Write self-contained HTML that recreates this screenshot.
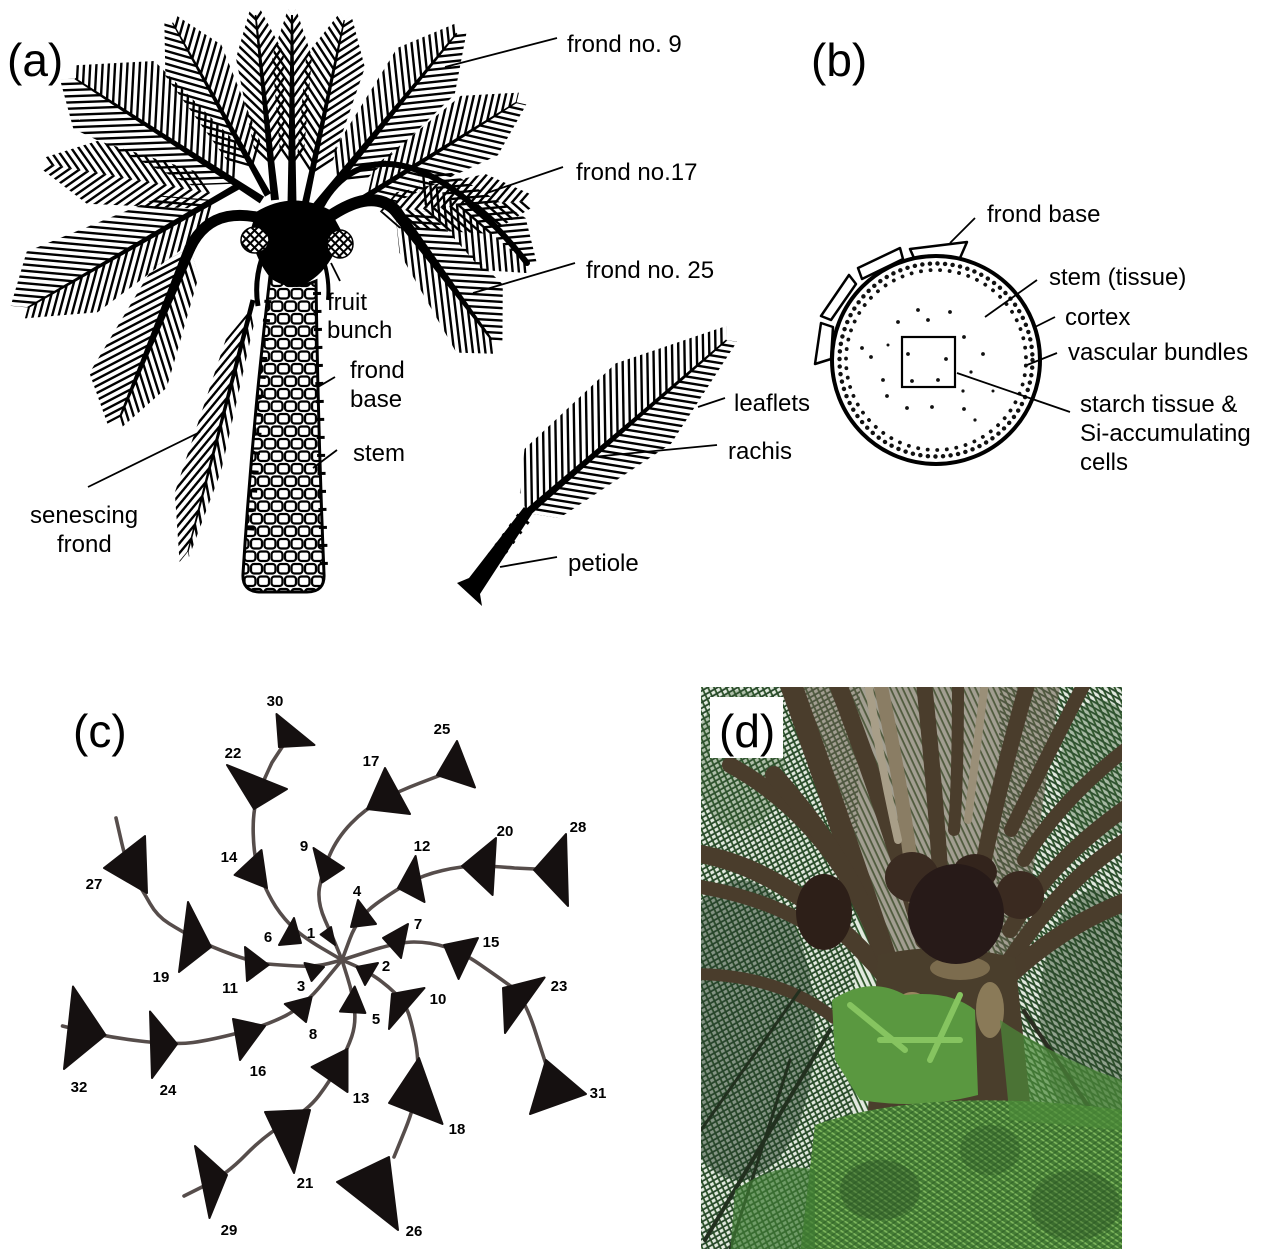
<!DOCTYPE html>
<html><head><meta charset="utf-8">
<style>
html,body{margin:0;padding:0;background:#fff;}
svg{display:block;}
text{font-family:"Liberation Sans",Arial,sans-serif;fill:#000;}
</style></head><body>
<svg width="1269" height="1260" viewBox="0 0 1269 1260" xmlns="http://www.w3.org/2000/svg">
<defs>
<pattern id="h25" patternUnits="userSpaceOnUse" width="10" height="6.2" patternTransform="rotate(25)"><rect width="10" height="2.4"/></pattern>
<pattern id="h30" patternUnits="userSpaceOnUse" width="10" height="6.2" patternTransform="rotate(30)"><rect width="10" height="2.4"/></pattern>
<pattern id="h35" patternUnits="userSpaceOnUse" width="10" height="6.2" patternTransform="rotate(35)"><rect width="10" height="2.4"/></pattern>
<pattern id="h40" patternUnits="userSpaceOnUse" width="10" height="6.2" patternTransform="rotate(40)"><rect width="10" height="2.4"/></pattern>
<pattern id="h45" patternUnits="userSpaceOnUse" width="10" height="6.2" patternTransform="rotate(45)"><rect width="10" height="2.4"/></pattern>
<pattern id="h50" patternUnits="userSpaceOnUse" width="10" height="6.2" patternTransform="rotate(50)"><rect width="10" height="2.4"/></pattern>
<pattern id="h60" patternUnits="userSpaceOnUse" width="10" height="6.2" patternTransform="rotate(60)"><rect width="10" height="2.4"/></pattern>
<pattern id="h130" patternUnits="userSpaceOnUse" width="10" height="6.2" patternTransform="rotate(130)"><rect width="10" height="2.4"/></pattern>
<pattern id="h135" patternUnits="userSpaceOnUse" width="10" height="6.2" patternTransform="rotate(135)"><rect width="10" height="2.4"/></pattern>
<pattern id="h140" patternUnits="userSpaceOnUse" width="10" height="6.2" patternTransform="rotate(140)"><rect width="10" height="2.4"/></pattern>
<pattern id="h145" patternUnits="userSpaceOnUse" width="10" height="6.2" patternTransform="rotate(145)"><rect width="10" height="2.4"/></pattern>
<pattern id="h150" patternUnits="userSpaceOnUse" width="10" height="6.2" patternTransform="rotate(150)"><rect width="10" height="2.4"/></pattern>
<pattern id="h155" patternUnits="userSpaceOnUse" width="10" height="6.2" patternTransform="rotate(155)"><rect width="10" height="2.4"/></pattern>
<pattern id="xh" patternUnits="userSpaceOnUse" width="6" height="6" patternTransform="rotate(45)"><rect width="6" height="6" fill="#fff"/><rect width="6" height="2"/><rect width="2" height="6"/></pattern>
<pattern id="cells" patternUnits="userSpaceOnUse" width="27" height="25"><rect width="27" height="25" fill="#fff"/><g fill="none" stroke="#000" stroke-width="2.3"><rect x="1.5" y="1.5" width="11" height="9.5" rx="3"/><rect x="15" y="1.5" width="11" height="9.5" rx="3"/><rect x="-5.5" y="14" width="11" height="9.5" rx="3"/><rect x="8" y="14" width="11" height="9.5" rx="3"/><rect x="21.5" y="14" width="11" height="9.5" rx="3"/></g></pattern>
<pattern id="g1" patternUnits="userSpaceOnUse" width="10" height="5.5" patternTransform="rotate(65)"><rect width="10" height="1.8" fill="#2d5529"/></pattern>
<pattern id="g2" patternUnits="userSpaceOnUse" width="10" height="5" patternTransform="rotate(150)"><rect width="10" height="1.8" fill="#27472a"/></pattern>
<pattern id="g3" patternUnits="userSpaceOnUse" width="10" height="5" patternTransform="rotate(30)"><rect width="10" height="1.8" fill="#27472a"/></pattern>
<pattern id="f1" patternUnits="userSpaceOnUse" width="10" height="5" patternTransform="rotate(35)"><rect width="10" height="1.6" fill="#7fb85e"/></pattern>
<pattern id="f2" patternUnits="userSpaceOnUse" width="10" height="5" patternTransform="rotate(145)"><rect width="10" height="1.6" fill="#2c5e25"/></pattern>
<clipPath id="pc"><rect x="701" y="687" width="421" height="562"/></clipPath>
</defs>
<rect width="1269" height="1260" fill="#fff"/>

<!-- ================= PANEL (a) ================= -->
<text x="7" y="76" font-size="46">(a)</text>

<g transform="translate(250,200) rotate(190)">
<path fill="url(#h45)" d="M40,0L203,0L210,6L160,32L60,19Z"/>
<path fill="url(#h135)" d="M40,0L203,0L210,-6L160,-32L60,-19Z"/>
</g>
<g transform="translate(330,215) rotate(-4)">
<path fill="url(#h45)" d="M50,0L196,0L203,6L158,30L68,18Z"/>
<path fill="url(#h135)" d="M50,0L196,0L203,-6L158,-30L68,-18Z"/>
</g>
<g transform="translate(240,185) rotate(150)">
<path fill="url(#h35)" d="M30,0L245,0L259,10L218,49L72,29Z"/>
<path fill="url(#h135)" d="M30,0L245,0L253,-8L187,-39L53,-23Z"/>
<path d="M0,-3.5L245,-0.8L245,0.8L0,3.5Z"/>
</g>
<g transform="translate(262,200) rotate(213)">
<path fill="url(#h60)" d="M30,0L223,0L229,12L166,58L48,33Z"/>
<path fill="url(#h145)" d="M30,0L223,0L235,-9L197,-43L67,-26Z"/>
<path d="M0,-4L223,-0.8L223,0.8L0,4Z"/>
</g>
<g transform="translate(268,195) rotate(241)">
<path fill="url(#h45)" d="M30,0L197,0L203,6L154,32L49,19Z"/>
<path fill="url(#h135)" d="M30,0L197,0L203,-6L154,-32L49,-19Z"/>
<path d="M0,-3.5L197,-0.6L197,0.6L0,3.5Z"/>
</g>
<g transform="translate(275,200) rotate(264)">
<path fill="url(#h40)" d="M30,0L186,0L192,5L145,24L47,15Z"/>
<path fill="url(#h140)" d="M30,0L186,0L192,-5L145,-24L47,-15Z"/>
<path d="M0,-4L186,-0.8L186,0.8L0,4Z"/>
</g>
<g transform="translate(292,205) rotate(270)">
<path fill="url(#h35)" d="M35,0L190,0L196,4L148,20L52,12Z"/>
<path fill="url(#h145)" d="M35,0L190,0L196,-4L148,-20L52,-12Z"/>
<path d="M0,-4.5L190,-1L190,1L0,4.5Z"/>
</g>
<g transform="translate(305,205) rotate(282)">
<path fill="url(#h45)" d="M30,0L189,0L195,6L147,30L48,18Z"/>
<path fill="url(#h135)" d="M30,0L189,0L195,-6L147,-30L48,-18Z"/>
<path d="M0,-3.5L189,-0.7L189,0.7L0,3.5Z"/>
</g>
<g transform="translate(312,212) rotate(309)">
<path fill="url(#h45)" d="M40,0L230,0L237,7L181,37L62,22Z"/>
<path fill="url(#h135)" d="M40,0L230,0L237,-7L181,-37L62,-22Z"/>
<path d="M0,-4.5L230,-0.8L230,0.8L0,4.5Z"/>
</g>
<g transform="translate(325,222) rotate(328)">
<path fill="url(#h45)" d="M50,0L226,0L233,7L182,35L71,21Z"/>
<path fill="url(#h135)" d="M50,0L226,0L233,-7L182,-35L71,-21Z"/>
<path d="M0,-3.5L226,-0.7L226,0.7L0,3.5Z"/>
</g>
<g transform="translate(418,172) rotate(40)">
<path fill="url(#h45)" d="M0,0L142,0L149,7L112,34L20,20Z"/>
<path fill="url(#h135)" d="M0,0L142,0L149,-7L112,-34L20,-20Z"/>
</g>
<path d="M322,205 C355,145 430,140 527,263" fill="none" stroke="#000" stroke-width="6" stroke-linecap="round"/>
<g transform="translate(395,210) rotate(53.3)">
<path fill="url(#h130)" d="M0,0L162,0L169,-8L124,-42L21,-25Z"/>
<path fill="url(#h30)" d="M0,0L162,0L174,7L151,36L37,22Z"/>
<path d="M0,-6L162,-1L162,1L0,6Z"/>
</g>
<path d="M298,242 Q365,180 395,210" fill="none" stroke="#000" stroke-width="12" stroke-linecap="round"/>
<g transform="translate(190,248) rotate(112.5)">
<path fill="url(#h40)" d="M0,0L183,0L194,9L154,45L32,27Z"/>
<path fill="url(#h140)" d="M0,0L183,0L191,-6L138,-32L23,-19Z"/>
<path d="M0,-5.5L183,-1L183,1L0,5.5Z"/>
</g>
<path d="M290,228 Q215,195 190,248" fill="none" stroke="#000" stroke-width="11" stroke-linecap="round"/>
<g transform="translate(253,300) rotate(104.5)">
<path fill="url(#h25)" d="M10,0L260,0L272,5.5L206,27.5L45,16.5Z"/>
<path fill="url(#h155)" d="M10,0L260,0L265,-2.4L173,-12L25,-7Z"/>
<path d="M0,-2.5L260,-0.7L260,0.7L0,2.5Z"/>
</g>

<path d="M256,212 Q292,190 330,210 L342,232 Q332,270 305,284 Q290,292 276,284 Q256,264 250,232 Z"/>
<path d="M262,258 Q254,282 258,306" fill="none" stroke="#000" stroke-width="5"/>
<path d="M323,258 Q330,280 328,300" fill="none" stroke="#000" stroke-width="4"/>
<path d="M270,276 Q292,292 316,281 Q318,430 324,574 Q325,592 307,592 L259,592 Q242,591 243,574 Q252,430 270,276 Z" fill="url(#cells)" stroke="#000" stroke-width="3"/>
<path d="M317,292 L324,570" stroke="#000" stroke-width="8" stroke-dasharray="3 15" fill="none"/>
<path d="M268,300 L250,540" stroke="#000" stroke-width="7" stroke-dasharray="3 16" fill="none"/>
<ellipse cx="255" cy="240" rx="14" ry="13" fill="url(#xh)" stroke="#000" stroke-width="1.5"/>
<ellipse cx="340" cy="244" rx="13" ry="14" fill="url(#xh)" stroke="#000" stroke-width="1.5"/>

<g transform="translate(527,513) rotate(-40.9)">
<path fill="url(#h130)" d="M0,0L264,0L273,-11L165,-55L40,-50L8,-20Z"/>
<path fill="url(#h50)" d="M0,0L264,0L271,8L154,42L21,25Z"/>
<path d="M0,-3.8L264,-0.8L264,0.8L0,3.8Z"/>
</g>
<path d="M472,588 L528,512" stroke="#000" stroke-width="15" stroke-dasharray="3 9" fill="none"/>
<path d="M457,583 L469,578 L524,507 L532,514 L480,594 L482,606 Z"/>

<g stroke="#000" stroke-width="1.8" fill="none">
<path d="M557,38 L445,67"/>
<path d="M563,167 L487,193"/>
<path d="M575,263 L473,293"/>
<path d="M331,263 L340,281"/>
<path d="M335,377 L318,387"/>
<path d="M337,450 L313,468"/>
<path d="M88,487 L200,432"/>
<path d="M725,398 L698,407"/>
<path d="M717,445 L592,457"/>
<path d="M557,557 L500,567"/>
</g>
<g font-size="24">
<text x="567" y="52">frond no. 9</text>
<text x="576" y="180">frond no.17</text>
<text x="586" y="278">frond no. 25</text>
<text x="327" y="310">fruit</text>
<text x="327" y="338">bunch</text>
<text x="350" y="378">frond</text>
<text x="350" y="407">base</text>
<text x="353" y="461">stem</text>
<text x="30" y="523">senescing</text>
<text x="57" y="552">frond</text>
<text x="734" y="411">leaflets</text>
<text x="728" y="459">rachis</text>
<text x="568" y="571">petiole</text>
</g>

<!-- ================= PANEL (b) ================= -->
<text x="811" y="76" font-size="46">(b)</text>
<g fill="#fff" stroke="#000" stroke-width="2.5" stroke-linejoin="round">
<polygon points="910,249 967,242 960,258 914,258"/>
<polygon points="858,268 900,248 903,259 862,279"/>
<polygon points="821,316 849,275 856,284 831,320"/>
<polygon points="815,364 821,323 833,327 831,359"/>
</g>
<circle cx="936" cy="360" r="104" fill="#fff" stroke="#000" stroke-width="4"/>
<circle cx="936" cy="360" r="96.5" fill="none" stroke="#111" stroke-width="4.4" stroke-linecap="round" stroke-dasharray="0.1 7.5"/>
<circle cx="936" cy="360" r="90" fill="none" stroke="#111" stroke-width="3.8" stroke-linecap="round" stroke-dasharray="0.1 9.5" stroke-dashoffset="4"/>
<rect x="902" y="337" width="53" height="50" fill="none" stroke="#000" stroke-width="2.2"/>
<g fill="#111">
<circle cx="918" cy="310" r="1.9"/><circle cx="950" cy="312" r="1.9"/><circle cx="928" cy="320" r="1.9"/><circle cx="898" cy="322" r="1.9"/>
<circle cx="964" cy="337" r="1.9"/><circle cx="862" cy="348" r="1.9"/><circle cx="871" cy="357" r="1.9"/><circle cx="888" cy="345" r="1.5"/>
<circle cx="908" cy="354" r="1.9"/><circle cx="946" cy="359" r="1.9"/><circle cx="983" cy="354" r="1.9"/><circle cx="971" cy="372" r="1.6"/>
<circle cx="883" cy="380" r="1.9"/><circle cx="912" cy="381" r="1.9"/><circle cx="938" cy="380" r="1.9"/><circle cx="887" cy="396" r="1.9"/>
<circle cx="907" cy="408" r="1.9"/><circle cx="932" cy="407" r="1.9"/><circle cx="963" cy="391" r="1.6"/><circle cx="964" cy="409" r="1.9"/>
<circle cx="993" cy="391" r="1.5"/><circle cx="975" cy="420" r="1.6"/>
</g>
<g stroke="#000" stroke-width="1.8" fill="none">
<path d="M975,218 L950,243"/>
<path d="M1037,280 L985,317"/>
<path d="M1055,317 L1035,327"/>
<path d="M1057,353 L1027,365"/>
<path d="M957,373 L1070,412"/>
</g>
<g font-size="24">
<text x="987" y="222">frond base</text>
<text x="1049" y="285">stem (tissue)</text>
<text x="1065" y="325">cortex</text>
<text x="1068" y="360">vascular bundles</text>
<text x="1080" y="412">starch tissue &amp;</text>
<text x="1080" y="441">Si-accumulating</text>
<text x="1080" y="470">cells</text>
</g>

<!-- ================= PANEL (c) ================= -->
<text x="73" y="747" font-size="46">(c)</text>
<g fill="none" stroke="#564d4b" stroke-width="3.6" stroke-linecap="round">
<path d="M342,960 L337.5,949 Q333,938 325,920 Q317,902 319.5,887.5 Q322,873 329.5,855.5 Q337,838 351,823.5 Q365,809 382,800 Q399,791 420,783 L441,775"/>
<path d="M342,960 L353.5,965 Q365,970 376,977.5 Q387,985 396,994 Q405,1003 408.5,1013.5 Q412,1024 415.5,1042 Q419,1060 417.5,1081.5 Q416,1103 405,1130 L394,1157"/>
<path d="M342,960 L328.5,963.5 Q315,967 297,966 Q279,965 267.5,964 Q256,963 233.5,955 Q211,947 196,939 Q181,931 169,923.5 Q157,916 150,903.5 Q143,891 135,878.5 Q127,866 121.5,842 L116,818"/>
<path d="M342,960 L350,938.5 Q358,917 376,904 Q394,891 408.5,883 Q423,875 442.5,870.5 Q462,866 477.5,866 Q493,866 514.5,868 L556,870"/>
<path d="M342,960 L347.5,977.5 Q353,995 354.5,1009.5 Q356,1024 351.75,1036.5 Q347.5,1049 338.75,1065 Q330,1081 319,1095.5 Q308,1110 286.5,1122.5 Q265,1135 245.5,1155 Q226,1175 205,1185.5 L184,1196"/>
<path d="M342,960 L321.5,948 Q301,936 290,924.5 Q279,913 272,900.5 Q265,888 259.5,873.5 Q254,859 253.25,834 Q252.5,809 258.75,793 Q265,777 272,762.5 L290,735"/>
<path d="M342,960 L370,951 Q398,942 414,942 Q430,942 446,947 Q462,952 480,964.5 Q498,977 510.5,986 Q523,995 534,1027.5 L554,1089"/>
<path d="M342,960 L323,983 Q304.5,1006 285,1016 Q265,1026 238,1033 Q211,1040 193,1042.5 Q175.5,1045 140,1041 Q104,1037 62.5,1026"/>
</g>
<g fill="#151010" stroke="#151010" stroke-width="2" stroke-linejoin="round">
<polygon points="276.5,714 314.5,745 279,747"/>
<polygon points="227,765 287,789 254,809"/>
<polygon points="234.6,875 261.5,850 267,888"/>
<polygon points="279,945 294,918 301,943"/>
<polygon points="320.6,934.5 331,927 335,945"/>
<polygon points="313.5,848 344,868 322,882.5"/>
<polygon points="367,809 385,768 410,814"/>
<polygon points="437,775 457,741 475,787.5"/>
<polygon points="351,927 358,900 376,924"/>
<polygon points="398,888 415.6,856 424.5,902"/>
<polygon points="462,866 496,838 492.6,895"/>
<polygon points="534,870 566,834 568,906"/>
<polygon points="383,938 408,924 401,958"/>
<polygon points="444,945 478,938 458.6,979"/>
<polygon points="503,988 544.6,977.5 505,1033"/>
<polygon points="530,1114 546,1060 586,1094"/>
<polygon points="356.5,967 378,963 365,985"/>
<polygon points="392,994 424.5,988 389,1029"/>
<polygon points="389,1103 419,1058 442.5,1124"/>
<polygon points="337,1182 389,1157 398,1230"/>
<polygon points="340,1011.5 354.7,986.5 365.4,1013"/>
<polygon points="311.6,1067 347.5,1049 347.5,1092"/>
<polygon points="265,1112 310,1110 294,1173"/>
<polygon points="195,1146 227,1175 209.5,1218"/>
<polygon points="304.5,963 324,967 311.6,981"/>
<polygon points="245,947 268.6,965 247,981"/>
<polygon points="188,902 211,947 179,972"/>
<polygon points="104,868 145,836 147,893"/>
<polygon points="284.8,1004 311.6,997 306,1022"/>
<polygon points="233,1019 265,1026 240,1060"/>
<polygon points="150,1011.5 177,1044 152,1078"/>
<polygon points="73,986.5 105.5,1035 64,1069"/>
</g>
<g font-size="15" font-weight="bold" text-anchor="middle">
<text x="275" y="706">30</text><text x="233" y="758">22</text><text x="371" y="766">17</text><text x="442" y="734">25</text>
<text x="229" y="862">14</text><text x="304" y="851">9</text><text x="422" y="851">12</text><text x="505" y="836">20</text>
<text x="578" y="832">28</text><text x="94" y="889">27</text><text x="357" y="896">4</text><text x="418" y="929">7</text>
<text x="268" y="942">6</text><text x="311" y="938">1</text><text x="491" y="947">15</text><text x="386" y="971">2</text>
<text x="161" y="982">19</text><text x="230" y="993">11</text><text x="301" y="991">3</text><text x="559" y="991">23</text>
<text x="438" y="1004">10</text><text x="376" y="1024">5</text><text x="313" y="1039">8</text><text x="79" y="1092">32</text>
<text x="168" y="1095">24</text><text x="258" y="1076">16</text><text x="361" y="1103">13</text><text x="598" y="1098">31</text>
<text x="457" y="1134">18</text><text x="305" y="1188">21</text><text x="229" y="1235">29</text><text x="414" y="1236">26</text>
</g>

<!-- ================= PANEL (d) photo ================= -->
<g clip-path="url(#pc)">
<rect x="701" y="687" width="421" height="562" fill="#e2e9df"/>
<rect x="701" y="687" width="421" height="562" fill="url(#g1)"/>
<path d="M701,687 L860,687 L850,1249 L701,1249 Z" fill="url(#g2)"/>
<path d="M1000,687 L1122,687 L1122,1249 L990,1249 Z" fill="url(#g3)"/>
<ellipse cx="740" cy="1030" rx="75" ry="150" fill="#26402a" opacity=".5"/>
<ellipse cx="1095" cy="1010" rx="55" ry="120" fill="#2c4a2a" opacity=".45"/>
<ellipse cx="1100" cy="770" rx="40" ry="70" fill="#3a6236" opacity=".35"/>
<ellipse cx="740" cy="760" rx="45" ry="70" fill="#3a6236" opacity=".3"/>
<path d="M800,687 L1060,687 L1020,960 L880,960 Z" fill="#6e6150" opacity=".55"/>
<g fill="none" stroke-linecap="round" stroke="#4a3d2c">
<path d="M790,682 Q850,850 897,992" stroke-width="22"/>
<path d="M837,682 Q890,820 924,940" stroke-width="18"/>
<path d="M924,682 Q935,790 940,870" stroke-width="16"/>
<path d="M958,682 Q958,780 954,830" stroke-width="12"/>
<path d="M1028,682 Q1000,780 984,860" stroke-width="16"/>
<path d="M1085,682 Q1040,770 1011,830" stroke-width="14"/>
<path d="M1130,746 Q1060,800 1024,860" stroke-width="14"/>
<path d="M1130,805 Q1050,860 1010,930" stroke-width="16"/>
<path d="M1130,838 Q1060,880 1000,975" stroke-width="16"/>
<path d="M1130,900 Q1050,930 990,995" stroke-width="18"/>
<path d="M695,853 Q800,870 897,990" stroke-width="18"/>
<path d="M695,886 Q780,900 830,940" stroke-width="14"/>
<path d="M695,974 Q780,975 834,1018" stroke-width="12"/>
<path d="M730,765 Q830,820 877,937" stroke-width="16"/>
<path d="M774,775 Q860,870 897,992" stroke-width="18"/>
<path d="M880,682 Q905,800 915,900" stroke-width="14" stroke="#8a7d64"/>
<path d="M868,682 Q880,760 898,840" stroke-width="8" stroke="#a89e88"/>
<path d="M985,682 Q975,760 968,820" stroke-width="8" stroke="#9a8f78"/>
<path d="M1024,1011 L1103,1128" stroke-width="4" stroke="#2b2d22"/>
<path d="M830,1030 L705,1240" stroke-width="4" stroke="#22301f"/>
<path d="M800,990 L701,1130" stroke-width="3" stroke="#22301f"/>
<path d="M790,1060 L730,1249" stroke-width="3" stroke="#22301f"/>
</g>
<path d="M878,955 Q945,940 1015,958 L1035,1150 L1010,1255 L880,1255 L866,1140 Z" fill="#4a3e2c"/>
<ellipse cx="912" cy="1020" rx="22" ry="28" fill="#9a8660"/>
<ellipse cx="960" cy="968" rx="30" ry="12" fill="#7c6c4e"/>
<ellipse cx="990" cy="1010" rx="14" ry="28" fill="#8a7a58"/>
<ellipse cx="912" cy="877" rx="27" ry="25" fill="#3a2b21"/>
<ellipse cx="975" cy="872" rx="22" ry="18" fill="#33241c"/>
<ellipse cx="1020" cy="895" rx="24" ry="24" fill="#3a2a20"/>
<ellipse cx="824" cy="912" rx="28" ry="38" fill="#2d1f18"/>
<ellipse cx="956" cy="914" rx="48" ry="50" fill="#271a18"/>
<path d="M832,1000 Q870,975 905,995 Q950,990 975,1010 L978,1095 Q920,1110 860,1100 L835,1060 Z" fill="#5a9840"/>
<path d="M850,1005 L905,1050 M960,995 L930,1060 M880,1040 L960,1040" stroke="#86c460" stroke-width="6" stroke-linecap="round" fill="none"/>
<path d="M815,1125 Q930,1085 1122,1110 L1122,1255 L800,1255 Z" fill="#457d35"/>
<path d="M815,1125 Q930,1085 1122,1110 L1122,1255 L800,1255 Z" fill="url(#f1)"/>
<path d="M815,1125 Q930,1085 1122,1110 L1122,1255 L800,1255 Z" fill="url(#f2)" opacity=".6"/>
<ellipse cx="880" cy="1190" rx="40" ry="30" fill="#2c5526" opacity=".45"/>
<ellipse cx="1075" cy="1205" rx="45" ry="35" fill="#2c5526" opacity=".4"/>
<ellipse cx="990" cy="1150" rx="30" ry="25" fill="#2c5526" opacity=".35"/>
<path d="M1000,1020 Q1060,1060 1122,1080 L1122,1130 L1010,1120 Z" fill="#4b8a39" opacity=".7"/>
<path d="M735,1190 Q780,1160 815,1170 L815,1255 L730,1255 Z" fill="#3f7a33" opacity=".7"/>
<rect x="710" y="697" width="73" height="61" fill="#fff"/>
<text x="719" y="747" font-size="46">(d)</text>
</g>
</svg>
</body></html>
